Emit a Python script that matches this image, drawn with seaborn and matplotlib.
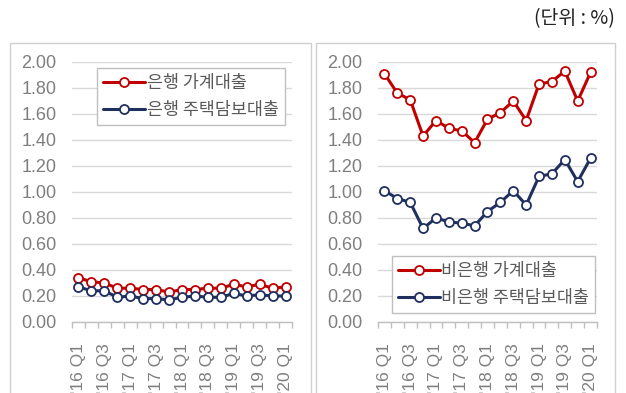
import matplotlib
matplotlib.use("Agg")
import matplotlib.pyplot as plt
import matplotlib.patches as mpatches
from matplotlib.lines import Line2D
import numpy as np
import pandas as pd
import seaborn as sns

quarters = ["'16 Q1", "'16 Q2", "'16 Q3", "'16 Q4",
            "'17 Q1", "'17 Q2", "'17 Q3", "'17 Q4",
            "'18 Q1", "'18 Q2", "'18 Q3", "'18 Q4",
            "'19 Q1", "'19 Q2", "'19 Q3", "'19 Q4",
            "'20 Q1"]
bank_household = [0.34, 0.31, 0.30, 0.26, 0.26, 0.25, 0.25, 0.23, 0.25,
                  0.25, 0.26, 0.26, 0.29, 0.27, 0.29, 0.26, 0.27]
bank_mortgage = [0.27, 0.24, 0.24, 0.19, 0.20, 0.18, 0.18, 0.17, 0.19,
                 0.20, 0.19, 0.19, 0.22, 0.20, 0.21, 0.20, 0.20]
nonbank_household = [1.91, 1.76, 1.71, 1.43, 1.55, 1.49, 1.47, 1.38, 1.56,
                     1.61, 1.70, 1.55, 1.83, 1.85, 1.93, 1.70, 1.92]
nonbank_mortgage = [1.01, 0.95, 0.92, 0.72, 0.80, 0.77, 0.76, 0.74, 0.85,
                    0.92, 1.01, 0.90, 1.12, 1.14, 1.25, 1.08, 1.26]
left_labels = ["은행 가계대출", "은행 주택담보대출"]
right_labels = ["비은행 가계대출", "비은행 주택담보대출"]
unit_text = "(단위 : %)"

RED = "#C00000"
NAVY = "#1F2F5F"
GRAY_TXT = "#7F7F7F"
GRID = "#D9D9D9"

sns.set_style("white")
plt.rcParams["font.family"] = ["Liberation Sans", "Noto Sans CJK KR"]

W, H = 626, 393
fig = plt.figure(figsize=(W / 100, H / 100), dpi=100)


def fx(px):
    return px / W


def fy(py):
    return 1 - py / H


# panel frames
for x0, x1 in [(10, 311), (316, 615)]:
    fig.patches.append(mpatches.Rectangle((fx(x0), fy(420)), fx(x1 - x0), (420 - 43) / H,
                                          transform=fig.transFigure, fill=False,
                                          edgecolor="#D0D0D0", linewidth=1.0))

fig.text(fx(615), fy(19), unit_text, ha="right", va="center", fontsize=14,
         color="#222222", family=["Noto Sans CJK KR", "Liberation Sans"])

x = np.arange(len(quarters))
MS, MEW, LW = 6.5, 1.3, 2.2


def make_axes(left_px, right_px, s1, s2, labels, legend_kw):
    ax = fig.add_axes([fx(left_px), fy(322), fx(right_px - left_px), (322 - 62) / H])
    df = pd.DataFrame({"q": np.concatenate([x, x]),
                       "v": s1 + s2,
                       "s": [labels[0]] * len(x) + [labels[1]] * len(x)})
    sns.lineplot(data=df, x="q", y="v", hue="s", palette=[RED, NAVY], ax=ax,
                 marker="o", markersize=MS, markerfacecolor="white",
                 markeredgewidth=MEW, linewidth=LW, legend=False)
    for line, c in zip(ax.get_lines(), [RED, NAVY]):
        line.set_markeredgecolor(c)
    ax.set_xlim(-0.5, len(x) - 0.5)
    ax.set_ylim(0, 2.0)
    ax.set_yticks(np.arange(0, 2.01, 0.2))
    ax.set_yticklabels([f"{v:.2f}" for v in np.arange(0, 2.01, 0.2)])
    ax.yaxis.grid(True, color=GRID, linewidth=1)
    ax.set_axisbelow(True)
    ax.set_xticks(x[::2])
    ax.set_xticklabels(quarters[::2], rotation=90)
    ax.set_xticks(np.arange(-0.5, len(x), 1), minor=True)
    ax.tick_params(axis="x", which="major", bottom=False, length=0, pad=15,
                   labelsize=12.5, labelcolor=GRAY_TXT)
    ax.tick_params(axis="x", which="minor", bottom=True, length=4, width=1,
                   color="#BFBFBF", direction="out")
    ax.tick_params(axis="y", length=0, pad=11, labelsize=13, labelcolor=GRAY_TXT)
    for sp in ["top", "right", "left"]:
        ax.spines[sp].set_visible(False)
    ax.spines["bottom"].set_color("#BFBFBF")
    ax.spines["bottom"].set_linewidth(1)
    ax.set_xlabel("")
    ax.set_ylabel("")
    handles = [Line2D([], [], color=c, marker="o", markersize=MS,
                      markerfacecolor="white", markeredgecolor=c,
                      markeredgewidth=MEW, linewidth=LW) for c in [RED, NAVY]]
    leg = ax.legend(handles, labels, fancybox=False, edgecolor="#BFBFBF",
                    framealpha=1, borderaxespad=0, handlelength=2.4,
                    handletextpad=0.1, labelspacing=0.5, borderpad=0.35,
                    prop={"family": ["Noto Sans CJK KR"], "size": 12.5},
                    **legend_kw)
    for t in leg.get_texts():
        t.set_color("#595959")
    leg.get_frame().set_linewidth(1)
    return ax


make_axes(72, 292, bank_household, bank_mortgage, left_labels,
          dict(loc="upper left", bbox_to_anchor=(0.114, 0.977)))
make_axes(378, 597, nonbank_household, nonbank_mortgage, right_labels,
          dict(loc="lower left", bbox_to_anchor=(0.064, 0.035)))

fig.savefig("out.png", dpi=100)
